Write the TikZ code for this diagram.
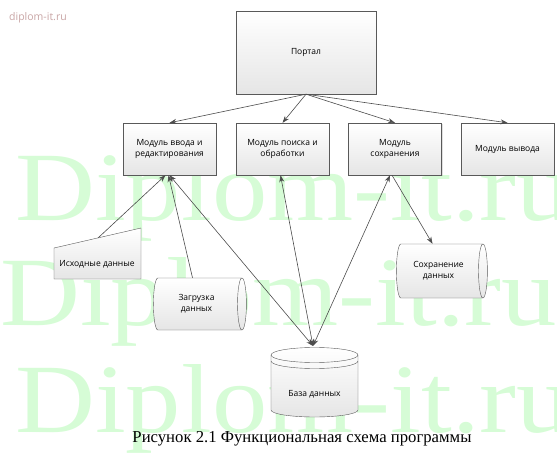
\documentclass[tikz,border=0pt]{standalone}
\usepackage{fontspec}
\setmainfont{Liberation Serif}
\setsansfont{Open Sans}
\usetikzlibrary{shapes.geometric,arrows.meta,positioning,shadows}

\definecolor{markgreen}{RGB}{214,252,214}
\definecolor{markpink}{RGB}{200,165,165}

\begin{document}
\begin{tikzpicture}[x=1pt,y=-1pt,
    block/.style={rectangle, draw=black!65, top color=white, bottom color=black!10,
        minimum width=93pt, minimum height=52pt, align=center, inner sep=2pt,
        font=\sffamily\fontsize{8.5}{11}\selectfont,
        drop shadow={shadow xshift=1pt, shadow yshift=-1pt, opacity=0.25}},
    store/.style={cylinder, draw=black!65, top color=white, bottom color=black!10,
        minimum height=93pt, minimum width=52pt, aspect=0.35, align=center,
        font=\sffamily\fontsize{8.5}{11}\selectfont},
    intext/.style={align=center, font=\sffamily\fontsize{8.5}{11}\selectfont},
    link/.style={draw=black!70, line width=0.6pt, -{Stealth[length=7pt,width=5pt]}},
    twoway/.style={draw=black!70, line width=0.6pt,
        {Stealth[length=7pt,width=5pt]}-{Stealth[length=7pt,width=5pt]}},
    watermark/.style={text=markgreen, font=\fontsize{98}{98}\selectfont, xscale=1.13, anchor=base west, inner sep=0pt},
]
    \useasboundingbox (0,0) rectangle (557,460);
    \clip (0,0) rectangle (557,460);

    % watermarks
    \node[watermark] (mark1) at (15,220) {Diplom-it.ru};
    \node[watermark] (mark2) at (0,325) {Diplom-it.ru};
    \node[watermark] (mark3) at (15,432) {Diplom-it.ru};
    \node[text=markpink, font=\sffamily\fontsize{10.5}{10.5}\selectfont, anchor=west, inner sep=0pt] (site) at (9,18) {diplom-it.ru};

    % portal and modules
    \node[block, minimum width=140pt, minimum height=83pt] (portal) at (306,52.5) {Портал};
    \node[block] (m1) at (169.5,149) {Модуль ввода и\\редактирования};
    \node[block] (m2) at (282.5,149) {Модуль поиска и\\обработки};
    \node[block] (m3) at (395,149) {Модуль\\сохранения};
    \node[block] (m4) at (507.5,149) {Модуль вывода};

    % source data (manual input)
    \shade[top color=white, bottom color=black!10] (54,248) -- (141,228) -- (141,279) -- (54,279) -- cycle;
    \draw[draw=black!65] (54,248) -- (141,228) -- (141,279) -- (54,279) -- cycle;
    \node[intext] (src) at (97,264) {Исходные данные};
    \coordinate (srctop) at (98,238);

    % storages
    \node[store] (load) at (196.5,304) {Загрузка\\данных};
    \node[store, minimum height=91pt, minimum width=54pt] (save) at (438.5,271) {Сохранение\\данных};

    % database
    \shade[top color=white, bottom color=black!10] (271,355) -- (271,410)
        arc[start angle=180, end angle=360, x radius=43.5pt, y radius=7pt] -- (358,355)
        arc[start angle=0, end angle=180, x radius=43.5pt, y radius=7.5pt] -- cycle;
    \draw[draw=black!65] (271,355) -- (271,410)
        arc[start angle=180, end angle=360, x radius=43.5pt, y radius=7pt] -- (358,355)
        arc[start angle=0, end angle=180, x radius=43.5pt, y radius=7.5pt] -- cycle;
    \draw[draw=black!65] (271,355) arc[start angle=180, end angle=360, x radius=43.5pt, y radius=7.5pt];
    \draw[draw=black!65] (271,361) arc[start angle=180, end angle=360, x radius=43.5pt, y radius=7.5pt];
    \node[intext] (db) at (314.5,394) {База данных};
    \coordinate (dbtop) at (313,346);

    % connectors
    \foreach \m in {m1,m2,m3,m4} {
        \draw[link] (portal.south) -- (\m.north);
    }
    \draw[link] (srctop) -- ([xshift=-4pt]m1.south);
    \draw[link] ([xshift=-4pt]load.north) -- ([xshift=-1pt]m1.south);
    \draw[twoway] (dbtop) -- (m1.south);
    \draw[twoway] (dbtop) -- ([xshift=-2pt]m2.south);
    \draw[twoway] (dbtop) -- ([xshift=-5pt]m3.south);
    \draw[link] ([xshift=-3pt]m3.south) -- ([xshift=-6pt]save.north);

    % caption
    \node[font=\fontsize{16.7}{16.7}\selectfont] (caption) at (302,439) {Рисунок 2.1 Функциональная схема программы};
\end{tikzpicture}
\end{document}
